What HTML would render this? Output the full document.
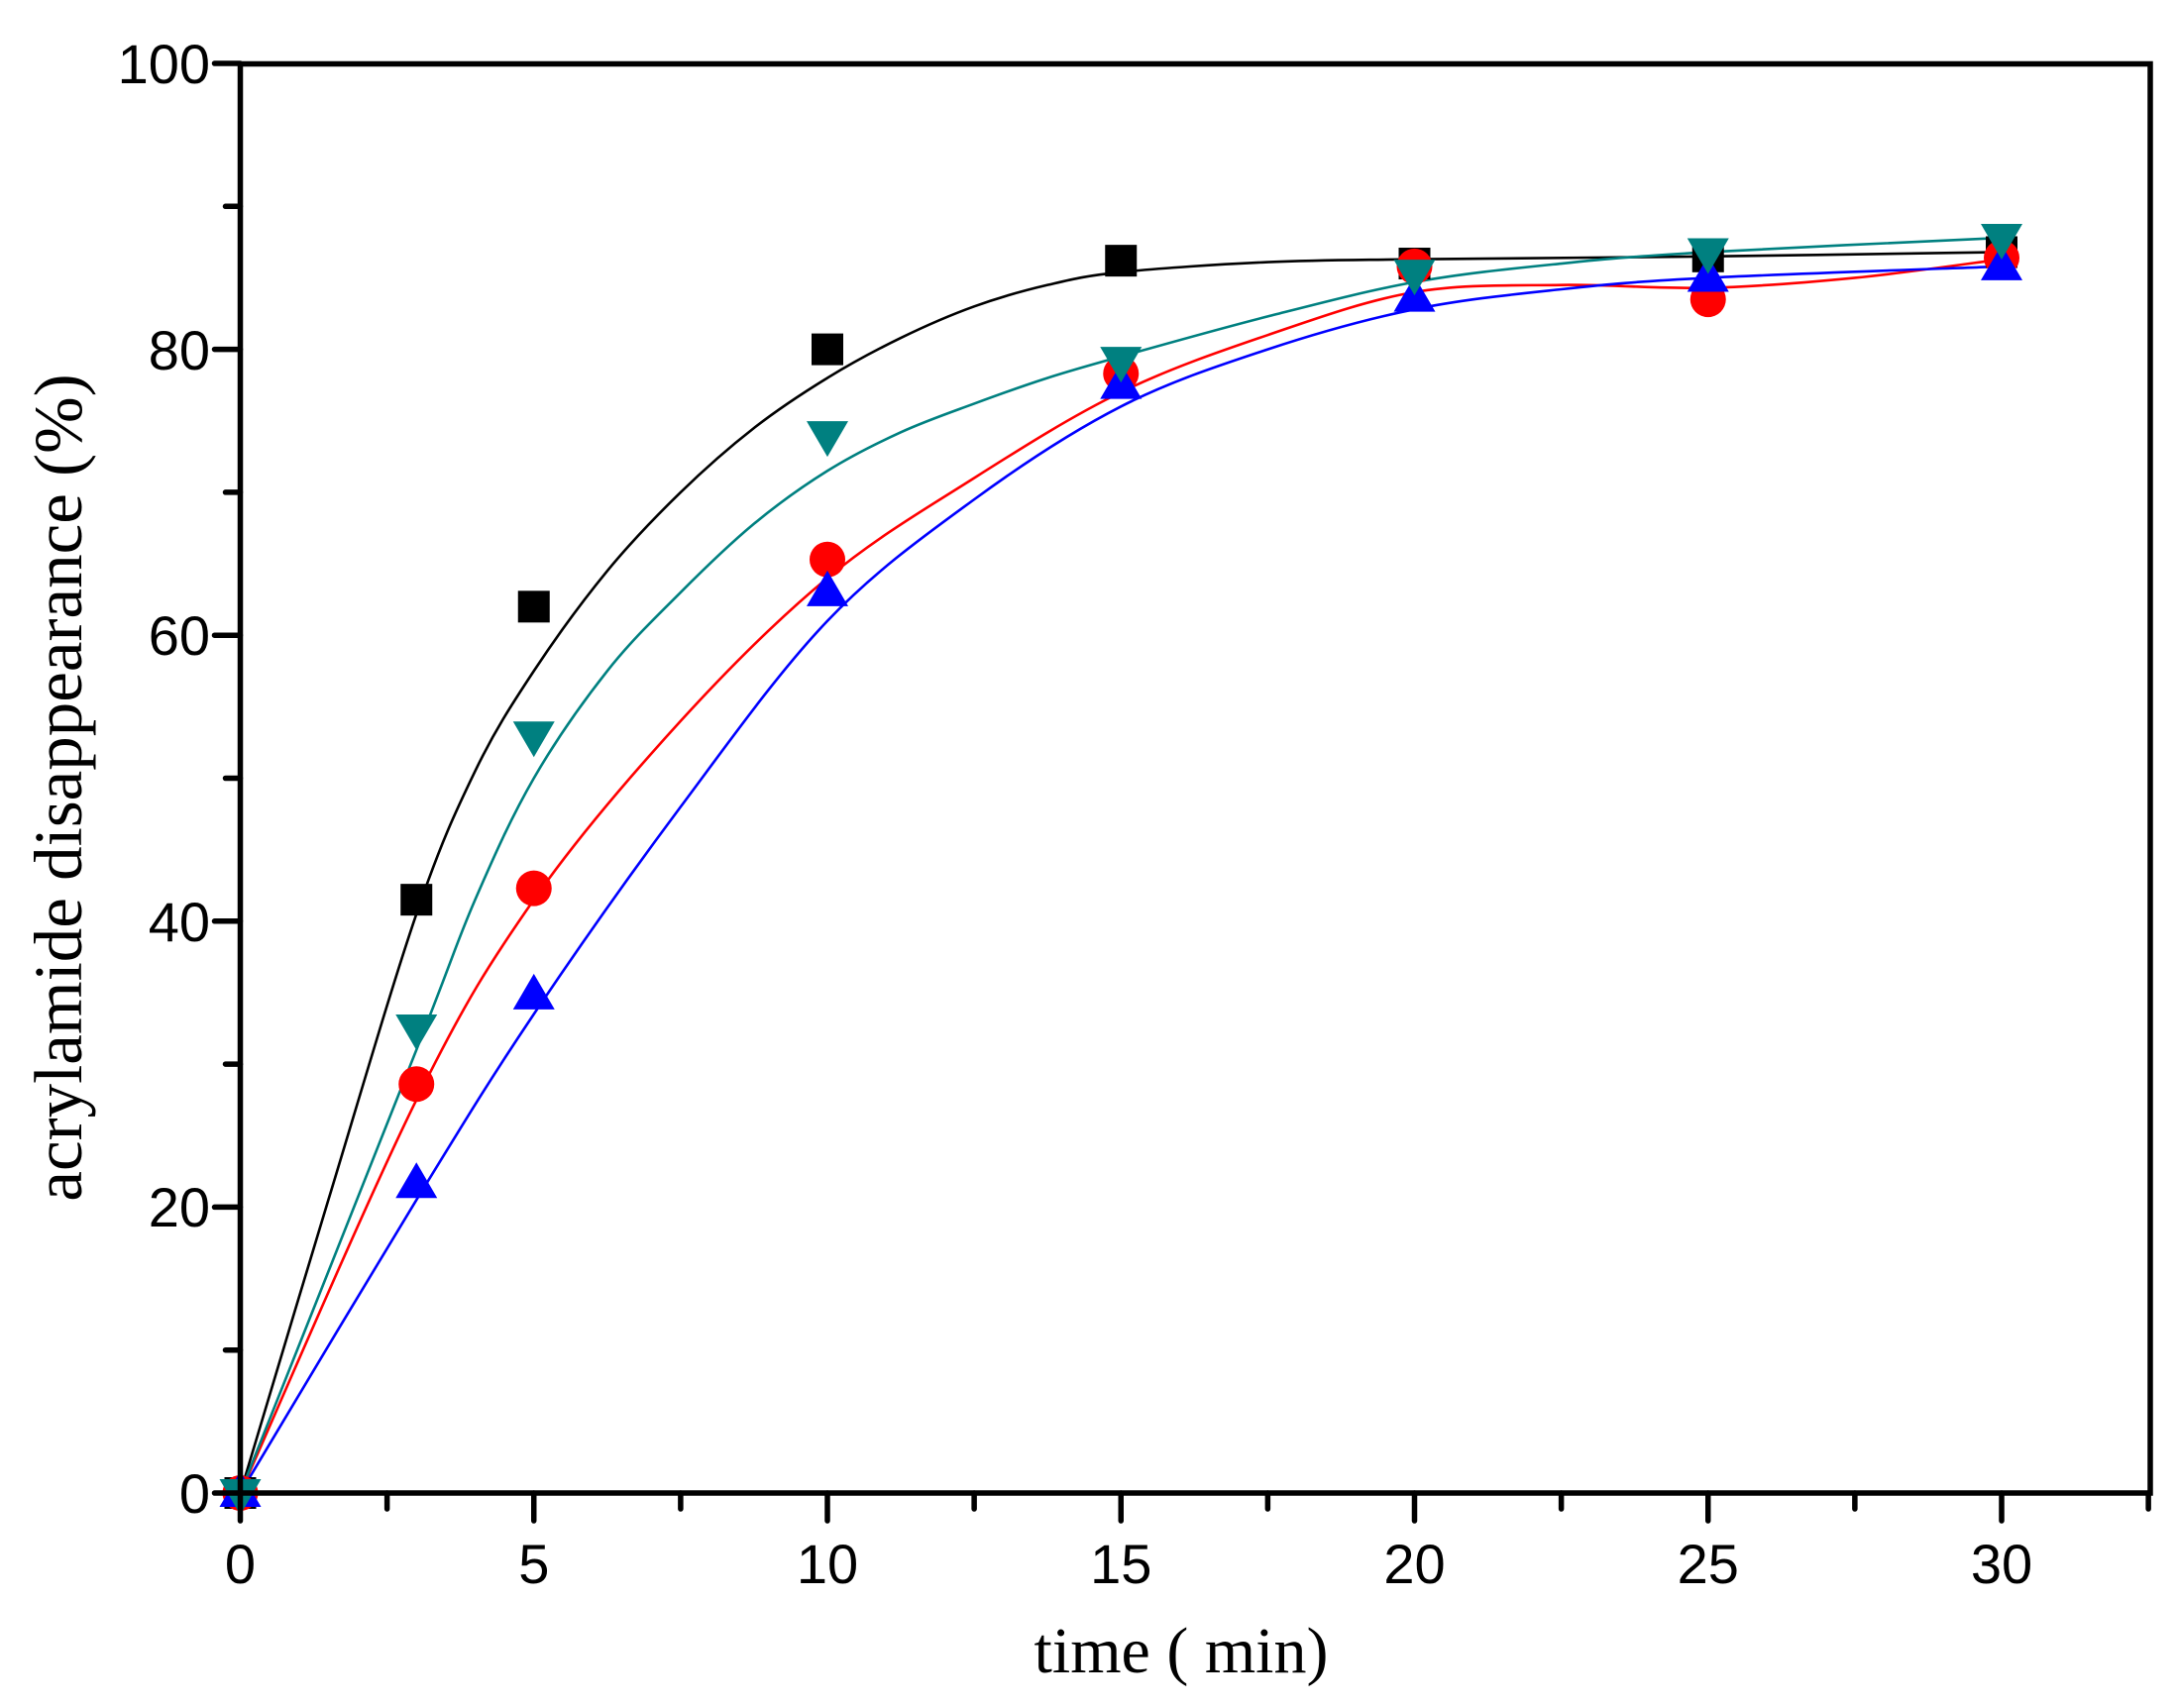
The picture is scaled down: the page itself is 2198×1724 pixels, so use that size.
<!DOCTYPE html>
<html><head><meta charset="utf-8"><style>
html,body{margin:0;padding:0;background:#fff;}
svg{display:block;}
.tk{font-family:"Liberation Sans",Arial,sans-serif;font-size:56px;fill:#000;}
.tt{font-family:"Liberation Serif","Times New Roman",serif;font-size:66px;fill:#000;}
</style></head><body>
<svg id="s" width="2198" height="1724" viewBox="0 0 2198 1724" xmlns="http://www.w3.org/2000/svg">
<rect width="2198" height="1724" fill="#fff"/>
<g id="curves" fill="none" stroke-width="2.6"></g>
<g id="marks"></g>
<g id="axes" stroke="#000" stroke-width="5.5" stroke-linecap="round" fill="none">
<rect x="242.5" y="64.5" width="1927.5" height="1442.5"/>
</g>
<g class="tk" text-anchor="end">
<text x="212" y="1527">0</text>
<text x="212" y="1238">20</text>
<text x="212" y="950">40</text>
<text x="212" y="661">60</text>
<text x="212" y="373">80</text>
<text x="212" y="84">100</text>
</g>
<g class="tk" text-anchor="middle">
<text x="242.5" y="1598">0</text>
<text x="538.8" y="1598">5</text>
<text x="835" y="1598">10</text>
<text x="1131.3" y="1598">15</text>
<text x="1427.5" y="1598">20</text>
<text x="1723.8" y="1598">25</text>
<text x="2020" y="1598">30</text>
</g>
<text class="tt" x="1192" y="1688" text-anchor="middle">time ( min)</text>
<text class="tt" transform="translate(82,795) rotate(-90)" text-anchor="middle" style="font-size:69px">acrylamide disappearance (%)</text>
</svg>
<script>
var X=function(t){return 242.5+t*59.25;},Y=function(v){return 1507-v*14.43;};
var ns="http://www.w3.org/2000/svg";
function el(p,n,a){var e=document.createElementNS(ns,n);for(var k in a)e.setAttribute(k,a[k]);p.appendChild(e);return e;}
var ax=document.getElementById('axes');
for(var v=0;v<=100;v+=10){var L=(v%20==0)?26:15;el(ax,'line',{x1:242.5-L,y1:Y(v),x2:242.5,y2:Y(v)});}
for(var t=0;t<=32.5;t+=2.5){var L=(t%5==0)?28:16;el(ax,'line',{x1:X(t),y1:1507,x2:X(t),y2:1507+L});}
function spline(pts){var n=pts.length,d='M'+X(pts[0][0])+','+Y(pts[0][1]);
 for(var i=0;i<n-1;i++){var p0=pts[Math.max(0,i-1)],p1=pts[i],p2=pts[i+1],p3=pts[Math.min(n-1,i+2)];
 var x1=X(p1[0]),y1=Y(p1[1]),x2=X(p2[0]),y2=Y(p2[1]);
 var c1x=x1+(X(p2[0])-X(p0[0]))/6,c1y=y1+(Y(p2[1])-Y(p0[1]))/6,c2x=x2-(X(p3[0])-X(p1[0]))/6,c2y=y2-(Y(p3[1])-Y(p1[1]))/6;
 d+=' C'+c1x+','+c1y+' '+c2x+','+c2y+' '+x2+','+y2;}return d;}
var cv=document.getElementById('curves');
var C={
 k:[[0,0],[1.5,20.5],[3,40.5],[4,50.5],[5,57.5],[6.25,64.5],[7.5,70],[8.75,74.5],[10,78],[11.25,80.8],[12.5,83],[13.75,84.5],[15,85.4],[17.5,86.1],[20,86.3],[25,86.5],[30,86.8]],
 t:[[0,0],[3,31],[4,41.5],[5,50],[6.25,57.5],[7.5,63],[8.75,67.8],[10,71.5],[11.25,74.2],[12.5,76.2],[13.75,78],[15,79.5],[17.5,82.3],[20,84.7],[22.5,86],[25,86.8],[30,87.8]],
 r:[[0,0],[3,27.5],[5,41.5],[7.5,54],[10,64],[12.5,71],[15,77],[17.5,81],[20,84],[22.5,84.5],[25,84.3],[27.5,85],[30,86.3]],
 b:[[0,0],[3,20.5],[5,33.5],[7.5,48],[10,61],[12.5,69.5],[15,76],[17.5,80],[20,82.8],[22.5,84.2],[25,85],[30,85.8]]};
var col={k:'#000',t:'#008080',r:'#ff0000',b:'#0000ff'};
['k','r','b','t'].forEach(function(s){el(cv,'path',{d:spline(C[s]),stroke:col[s]});});
var mk=document.getElementById('marks');var T=[0,3,5,10,15,20,25,30];
var D={k:[0,41.5,62,80,86.2,86,86.5,86.8],r:[0,28.6,42.3,65.3,78.3,85.8,83.5,86.4],b:[0,21.6,34.8,63,77.5,83.6,85,85.8],t:[0,32.5,53,74,79.2,85.3,86.8,87.8]};
T.forEach(function(t,i){var x=X(t),y=Y(D.k[i]);el(mk,'rect',{x:x-16,y:y-16,width:32,height:32,fill:'#000'});});
T.forEach(function(t,i){el(mk,'circle',{cx:X(t),cy:Y(D.r[i]),r:18,fill:'#ff0000'});});
T.forEach(function(t,i){var x=X(t),y=Y(D.b[i]);el(mk,'polygon',{points:(x-21)+','+(y+14)+' '+(x+21)+','+(y+14)+' '+x+','+(y-22),fill:'#0000ff'});});
T.forEach(function(t,i){var x=X(t),y=Y(D.t[i]);el(mk,'polygon',{points:(x-21)+','+(y-14)+' '+(x+21)+','+(y-14)+' '+x+','+(y+22),fill:'#008080'});});
</script>
</body></html>
